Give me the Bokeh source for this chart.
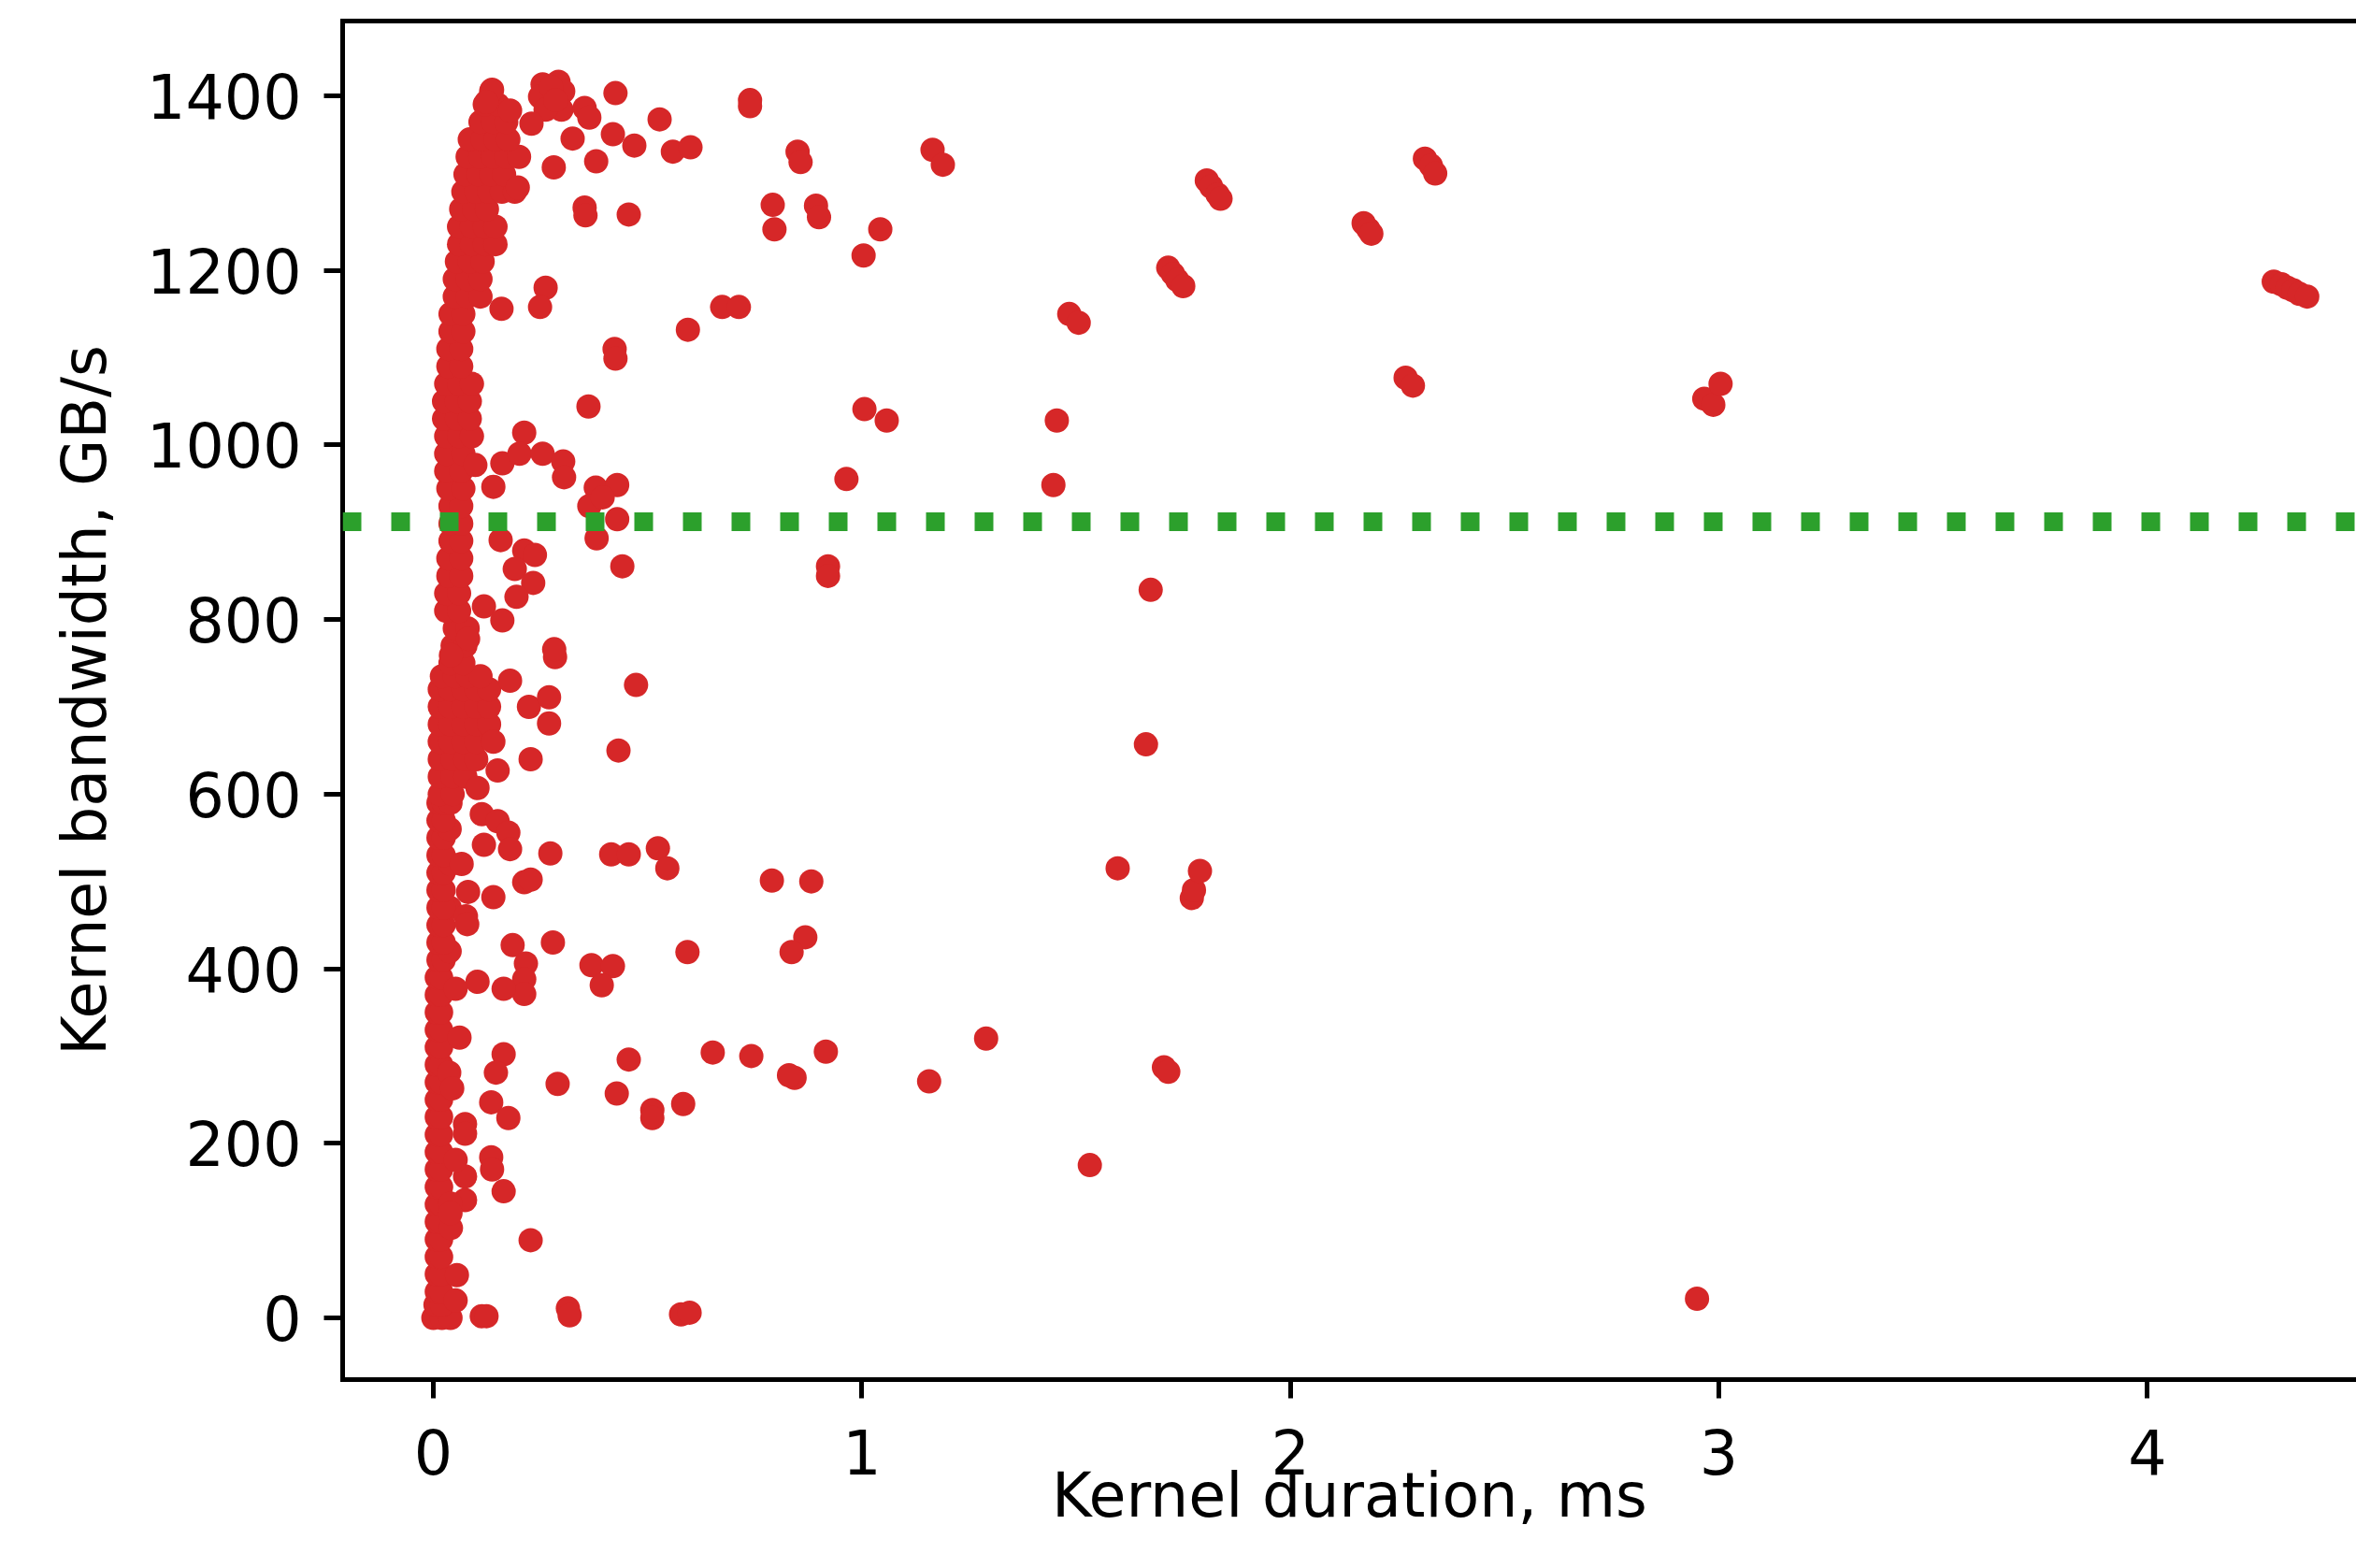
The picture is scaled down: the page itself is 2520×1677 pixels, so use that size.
from bokeh.plotting import figure
from bokeh.models import Span, LinearAxis, FixedTicker, Range1d
from bokeh.embed import file_html
from bokeh.resources import INLINE

# ---- data: kernel duration (ms) / kernel bandwidth (GB/s) ----
# dense column of short kernels, low part
col_low_dur = [0.0, 0.02, 0.04, 0.005, 0.02,
               0.008, 0.018, 0.008, 0.018, 0.008, 0.018, 0.008, 0.018, 0.008, 0.018,
               0.008, 0.018, 0.008, 0.018, 0.008, 0.018, 0.008, 0.018, 0.008, 0.018,
               0.008, 0.018, 0.008, 0.018, 0.008, 0.018, 0.008, 0.018, 0.008, 0.018,
               0.008, 0.018, 0.008, 0.018, 0.008, 0.018, 0.008, 0.018,
               0.012, 0.024, 0.038, 0.012, 0.024, 0.012, 0.024, 0.038, 0.012, 0.024, 0.012, 0.024,
               0.012, 0.024, 0.04, 0.012, 0.024, 0.012, 0.024, 0.038, 0.012, 0.024, 0.012, 0.024, 0.04]
col_low_bw = [0, 0, 0, 15, 15,
              30, 30, 50, 50, 70, 70, 90, 90, 110, 110,
              130, 130, 150, 150, 170, 170, 190, 190, 210, 210,
              230, 230, 250, 250, 270, 270, 290, 290, 310, 310,
              330, 330, 350, 350, 370, 370, 390, 390,
              410, 410, 420, 430, 430, 450, 450, 470, 470, 470, 490, 490,
              510, 510, 520, 530, 530, 550, 550, 560, 570, 570, 590, 590, 590]

# dense column, middle part
col_mid_dur = [0.015, 0.045,
               0.015, 0.045, 0.075,
               0.015, 0.045, 0.075, 0.1,
               0.015, 0.04, 0.07, 0.1,
               0.015, 0.04, 0.07, 0.1, 0.13,
               0.015, 0.04, 0.07, 0.1, 0.13,
               0.015, 0.04, 0.07, 0.1, 0.13,
               0.02, 0.05, 0.08, 0.11,
               0.04, 0.07, 0.045, 0.075, 0.05, 0.08,
               0.03, 0.06, 0.03, 0.06, 0.035, 0.065, 0.035, 0.065,
               0.04, 0.065, 0.04, 0.065, 0.04, 0.065,
               0.035, 0.07, 0.03, 0.065, 0.03, 0.07]
col_mid_bw = [600, 600,
              620, 620, 620,
              640, 640, 640, 640,
              660, 660, 660, 660,
              680, 680, 680, 680, 680,
              700, 700, 700, 700, 700,
              720, 720, 720, 720, 720,
              735, 735, 735, 735,
              750, 750, 770, 770, 790, 790,
              810, 810, 830, 830, 850, 850, 870, 870,
              890, 890, 910, 910, 930, 930,
              950, 950, 970, 970, 990, 990]

# dense column, upper part
col_up_dur = [0.03, 0.06, 0.09, 0.025, 0.055, 0.085, 0.025, 0.055, 0.085, 0.03, 0.06, 0.09,
              0.035, 0.065, 0.035, 0.065, 0.04, 0.07, 0.04, 0.07,
              0.05, 0.08, 0.11, 0.05, 0.08, 0.11, 0.055, 0.085, 0.115,
              0.06, 0.09, 0.12, 0.145, 0.06, 0.09, 0.12, 0.145, 0.065, 0.095, 0.125,
              0.07, 0.1, 0.13, 0.16, 0.19, 0.075, 0.105, 0.135, 0.165,
              0.08, 0.11, 0.14, 0.17, 0.2, 0.085, 0.115, 0.145, 0.175,
              0.11, 0.14, 0.17, 0.12, 0.15, 0.135]
col_up_bw = [1010, 1010, 1010, 1030, 1030, 1030, 1050, 1050, 1050, 1070, 1070, 1070,
             1090, 1090, 1110, 1110, 1130, 1130, 1150, 1150,
             1170, 1170, 1170, 1190, 1190, 1190, 1210, 1210, 1210,
             1230, 1230, 1230, 1230, 1250, 1250, 1250, 1250, 1270, 1270, 1270,
             1290, 1290, 1290, 1290, 1290, 1310, 1310, 1310, 1310,
             1330, 1330, 1330, 1330, 1330, 1350, 1350, 1350, 1350,
             1370, 1370, 1370, 1390, 1390, 1405]

# scattered kernels above ~930 GB/s
high_dur = [0.137, 0.124, 0.179, 0.255, 0.292, 0.303, 0.299, 0.249, 0.262, 0.275, 0.285,
            0.425, 0.353, 0.364, 0.528, 0.229, 0.325, 0.419, 0.469, 0.559, 0.6, 0.38, 0.281, 0.197,
            0.353, 0.355, 0.456, 0.262, 0.249, 0.159, 0.594, 0.423, 0.425, 0.362, 0.212,
            0.098, 0.161, 0.201, 0.255, 0.303, 0.305, 0.14,
            0.379, 0.429, 0.364, 0.395, 0.429, 0.381,
            0.739, 0.739, 0.85, 0.857, 1.165, 1.189, 0.792, 0.796, 0.893, 0.9, 1.043, 1.004,
            1.484, 1.506, 0.674, 0.713, 1.006, 1.058, 1.455, 0.964, 1.447,
            1.715, 1.726, 1.736, 1.75, 1.805, 1.815, 1.83, 1.837,
            2.171, 2.182, 2.189, 2.314, 2.328, 2.338, 2.269, 2.286,
            2.966, 2.987, 3.004,
            4.295, 4.313, 4.327, 4.341, 4.355, 4.373]
high_bw = [1407, 1393, 1383, 1413, 1416, 1405, 1384, 1399, 1384, 1410, 1395,
           1403, 1386, 1375, 1373, 1368, 1351, 1356, 1343, 1336, 1341, 1325, 1318, 1295,
           1272, 1263, 1264, 1180, 1158, 1156, 1132, 1110, 1099, 1044, 1014,
           977, 979, 990, 990, 981, 963, 952,
           951, 954, 930, 940, 915, 893,
           1395, 1388, 1336, 1324, 1338, 1321, 1275, 1247, 1274, 1261, 1247, 1217,
           1150, 1140, 1158, 1158, 1041, 1028, 1028, 961, 954,
           1203, 1196, 1189, 1182, 1303, 1296, 1287, 1282,
           1254, 1247, 1242, 1328, 1320, 1311, 1077, 1068,
           1053, 1046, 1070,
           1187, 1184, 1180, 1177, 1173, 1170]

# scattered kernels between ~400 and ~900 GB/s
mid_dur = [0.157, 0.212, 0.237, 0.19, 0.233, 0.194, 0.118, 0.161, 0.441, 0.081, 0.041,
           0.284, 0.282, 0.473, 0.179, 0.223, 0.27, 0.27, 0.14, 0.227, 0.15, 0.103, 0.432,
           0.113, 0.15, 0.175, 0.118, 0.179, 0.273, 0.415, 0.456, 0.524, 0.546,
           0.212, 0.227, 0.081, 0.14, 0.076, 0.079, 0.185, 0.216, 0.279, 0.369, 0.419, 0.593,
           0.921, 0.921, 1.674, 1.663, 1.597, 0.79, 0.882, 0.868, 0.836,
           1.77, 1.775, 1.789, 0.066]
mid_bw = [891, 879, 874, 858, 842, 826, 815, 799, 861, 778, 759,
          757, 766, 725, 730, 700, 711, 681, 660, 640, 627, 607, 650,
          577, 569, 556, 542, 537, 532, 531, 531, 538, 515,
          499, 502, 488, 482, 460, 451, 427, 406, 430, 404, 403, 419,
          861, 850, 834, 657, 515, 501, 500, 436, 419,
          481, 490, 512, 520]

# scattered kernels below ~400 GB/s
low_dur = [0.212, 0.212, 0.164, 0.103, 0.052, 0.393, 0.061, 0.164, 0.146, 0.29, 0.456,
           0.428, 0.511, 0.511, 0.583, 0.135, 0.175, 0.074, 0.074, 0.135, 0.137, 0.164,
           0.074, 0.074, 0.227, 0.052, 0.113, 0.124, 0.314, 0.318, 0.578, 0.598,
           0.652, 0.742, 0.916, 0.843, 0.83, 1.157, 1.29, 1.532, 1.705, 1.715, 2.949,
           0.055, 0.041, 0.052, 0.037, 0.044, 0.04, 0.04]
low_bw = [388, 371, 377, 385, 377, 381, 321, 302, 281, 268, 296,
          257, 238, 229, 245, 247, 229, 222, 211, 184, 170, 145,
          162, 135, 89, 20, 2, 2, 11, 3, 4, 6,
          304, 300, 305, 275, 278, 271, 320, 175, 287, 282, 22,
          49, 103, 181, 281, 263, 131, 120]

peak_bandwidth = 912
x_ticks = [0, 1, 2, 3, 4]
y_ticks = [0, 200, 400, 600, 800, 1000, 1200, 1400]

durations = col_low_dur + col_mid_dur + col_up_dur + high_dur + mid_dur + low_dur
bandwidths = col_low_bw + col_mid_bw + col_up_bw + high_bw + mid_bw + low_bw

# ---- figure ----
FONT = "DejaVu Sans"
FS = "65px"

p = figure(width=2520, height=1677, output_backend="svg", toolbar_location=None,
           x_range=Range1d(-0.2117, 4.488), y_range=Range1d(-70.7, 1485.6),
           min_border_left=366, min_border_right=0, min_border_top=22, min_border_bottom=202)
p.outline_line_color = None
p.background_fill_color = "white"
p.border_fill_color = "white"
p.xgrid.grid_line_color = None
p.ygrid.grid_line_color = None

p.scatter(durations, bandwidths, size=26, fill_color="#d62728", line_color=None)

p.add_layout(Span(location=peak_bandwidth, dimension="width", line_color="#2ca02c",
                  line_width=20, line_dash="20 32"))

for ax in (p.xaxis[0], p.yaxis[0]):
    ax.axis_line_width = 5
    ax.axis_line_cap = "square"
    ax.major_tick_line_width = 5
    ax.major_tick_out = 20
    ax.major_tick_in = 0
    ax.minor_tick_line_color = None
    ax.major_label_text_font = FONT
    ax.major_label_text_font_size = FS
    ax.major_label_text_color = "black"
    ax.axis_label_text_font = FONT
    ax.axis_label_text_font_size = FS
    ax.axis_label_text_font_style = "normal"
    ax.axis_label_text_color = "black"

p.xaxis[0].ticker = FixedTicker(ticks=x_ticks)
p.yaxis[0].ticker = FixedTicker(ticks=y_ticks)
p.xaxis[0].axis_label = "Kernel duration, ms"
p.yaxis[0].axis_label = "Kernel bandwidth, GB/s"
p.xaxis[0].major_label_standoff = 32
p.xaxis[0].axis_label_standoff = -18
p.yaxis[0].major_label_standoff = 24
p.yaxis[0].axis_label_standoff = 26

top = LinearAxis(ticker=FixedTicker(ticks=[]), major_label_text_font_size="0px",
                 major_tick_out=0, major_tick_in=0, minor_tick_out=0, minor_tick_in=0,
                 major_label_standoff=0, axis_line_width=5, axis_line_cap="square",
                 axis_line_color="black")
p.add_layout(top, "above")

open("out.html", "w").write(file_html(p, INLINE))
